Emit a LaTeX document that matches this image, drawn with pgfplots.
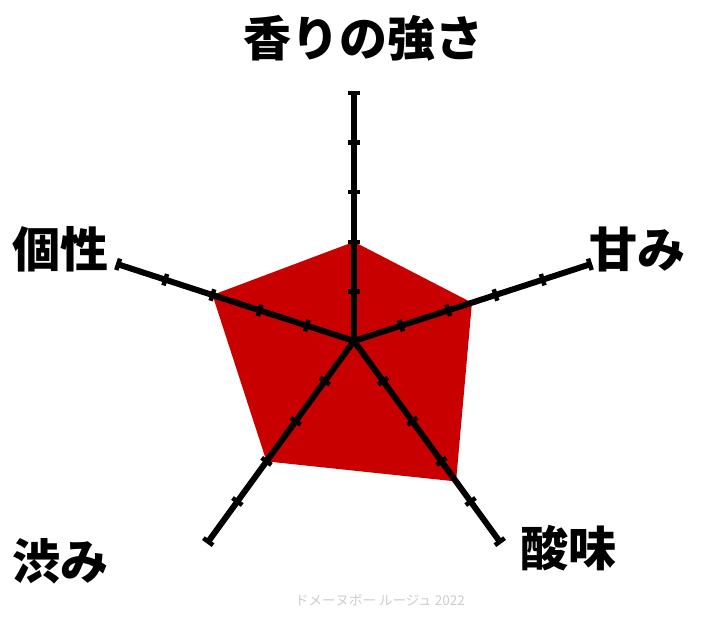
\documentclass[border=0pt]{standalone}
\usepackage{pgfplots}
\pgfplotsset{compat=1.18}
\usepgfplotslibrary{polar}
\usepackage{fontspec}
\newfontfamily\jp{Noto Sans CJK JP}
\definecolor{radarred}{RGB}{200,0,0}
\definecolor{wm}{RGB}{205,205,205}
\begin{document}
\begin{tikzpicture}
\useasboundingbox[fill=white] (0,0) rectangle (702bp,621bp);
\begin{polaraxis}[
  hide axis, ymin=0, ymax=5, xmin=0, xmax=360,
  scale only axis, width=496bp, height=496bp,
  at={(354bp,280bp)}, anchor=origin, clip=false]
% data polygon (angle, value)
\addplot[fill=radarred, draw=none] coordinates {(90,2) (18,2.5) (306,3.5) (234,3) (162,3)} -- cycle;
% axes
\addplot[black, line width=6bp, mark=none] coordinates {(90,0) (90,5)};
\addplot[black, line width=6bp, mark=none] coordinates {(18,0) (18,5)};
\addplot[black, line width=6bp, mark=none] coordinates {(306,0) (306,5)};
\addplot[black, line width=6bp, mark=none] coordinates {(234,0) (234,5)};
\addplot[black, line width=6bp, mark=none] coordinates {(162,0) (162,5)};
% ticks
\addplot[only marks, mark=|, mark size=6bp, mark options={black, rotate=90, line width=4.5bp}] coordinates {(90,1) (90,2) (90,3) (90,4) (90,5)};
\addplot[only marks, mark=|, mark size=6bp, mark options={black, rotate=18, line width=4.5bp}] coordinates {(18,1) (18,2) (18,3) (18,4) (18,5)};
\addplot[only marks, mark=|, mark size=6bp, mark options={black, rotate=306, line width=4.5bp}] coordinates {(306,1) (306,2) (306,3) (306,4) (306,5)};
\addplot[only marks, mark=|, mark size=6bp, mark options={black, rotate=234, line width=4.5bp}] coordinates {(234,1) (234,2) (234,3) (234,4) (234,5)};
\addplot[only marks, mark=|, mark size=6bp, mark options={black, rotate=162, line width=4.5bp}] coordinates {(162,1) (162,2) (162,3) (162,4) (162,5)};
\end{polaraxis}
\begin{scope}[every node/.style={inner sep=0pt, font=\jp\bfseries\fontsize{48bp}{52bp}\selectfont}]
\node at (363bp,583bp) {香りの強さ};
\node at (637bp,372bp) {甘み};
\node at (60bp,372bp) {個性};
\node at (60bp,60bp) {渋み};
\node at (568bp,73bp) {酸味};
\end{scope}
\node[inner sep=0pt, text=wm, font=\jp\fontsize{13.5bp}{15bp}\selectfont] at (380bp,21bp) {ドメーヌボー ルージュ 2022};
\end{tikzpicture}
\end{document}
